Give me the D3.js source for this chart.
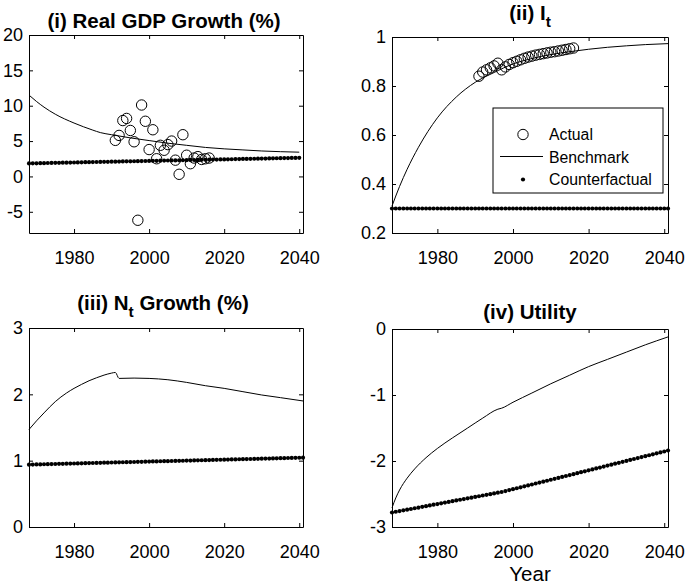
<!DOCTYPE html>
<html>
<head>
<meta charset="utf-8">
<script src="https://cdn.jsdelivr.net/npm/d3@7"></script>
<style>
body { margin: 0; background: #fff; }
text { font-family: "Liberation Sans", Arial, Helvetica, sans-serif; fill: #000; }
</style>
</head>
<body>
<svg id="chart" width="685" height="586"></svg>
<script>
years = [
    1968, 1969, 1970, 1971, 1972, 1973, 1974, 1975, 1976, 1977,
    1978, 1979, 1980, 1981, 1982, 1983, 1984, 1985, 1986, 1987,
    1988, 1989, 1990, 1991, 1992, 1993, 1994, 1995, 1996, 1997,
    1998, 1999, 2000, 2001, 2002, 2003, 2004, 2005, 2006, 2007,
    2008, 2009, 2010, 2011, 2012, 2013, 2014, 2015, 2016, 2017,
    2018, 2019, 2020, 2021, 2022, 2023, 2024, 2025, 2026, 2027,
    2028, 2029, 2030, 2031, 2032, 2033, 2034, 2035, 2036, 2037,
    2038, 2039, 2040, 2041
]

actualYears = [
    1991, 1992, 1993, 1994, 1995, 1996, 1997, 1998, 1999, 2000,
    2001, 2002, 2003, 2004, 2005, 2006, 2007, 2008, 2009, 2010,
    2011, 2012, 2013, 2014, 2015, 2016
]

xTicks = [1980, 2000, 2020, 2040]

// (i) real GDP growth
gdpActual = [
    5.1, 5.8, 7.9, 8.2, 6.5, 4.9, -6.2, 10.1, 7.8, 3.8,
    6.6, 2.5, 4.4, 3.7, 4.5, 5.0, 2.3, 0.3, 5.9, 3.0,
    1.8, 2.6, 2.8, 2.4, 2.5, 2.6
]
gdpBenchYears = [1968, 1970, 1972, 1975, 1980, 1985, 1987, 1990, 1995, 2000, 2005, 2010, 2015, 2020, 2025, 2030, 2035, 2040]
gdpBench = [11.5, 10.6, 9.8, 8.8, 7.55, 6.55, 6.2, 5.9, 5.45, 5.07, 4.7, 4.4, 4.1, 3.9, 3.75, 3.6, 3.5, 3.43]
gdpCounter = [
    1.84, 1.85, 1.86, 1.87, 1.88, 1.90, 1.91, 1.92, 1.93, 1.94,
    1.95, 1.96, 1.97, 1.98, 1.99, 2.01, 2.02, 2.03, 2.04, 2.05,
    2.06, 2.07, 2.08, 2.09, 2.10, 2.12, 2.13, 2.14, 2.15, 2.16,
    2.17, 2.18, 2.19, 2.20, 2.21, 2.23, 2.24, 2.25, 2.26, 2.27,
    2.28, 2.29, 2.30, 2.31, 2.32, 2.34, 2.35, 2.36, 2.37, 2.38,
    2.39, 2.40, 2.41, 2.42, 2.43, 2.45, 2.46, 2.47, 2.48, 2.49,
    2.50, 2.51, 2.52, 2.53, 2.54, 2.56, 2.57, 2.58, 2.59, 2.60,
    2.61, 2.62, 2.63
]
gdpTicks = [-5, 0, 5, 10, 15, 20]

// (ii) I_t
litActual = [
    0.840, 0.857, 0.866, 0.874, 0.882, 0.893, 0.866, 0.878, 0.888, 0.895,
    0.901, 0.907, 0.913, 0.918, 0.922, 0.926, 0.929, 0.932, 0.935, 0.938,
    0.940, 0.943, 0.946, 0.949, 0.952, 0.955
]
litBenchYears = [1968, 1970, 1972, 1975, 1980, 1985, 1990, 1995, 2000, 2005, 2010, 2015, 2020, 2025, 2030, 2035, 2041]
litBench = [0.31, 0.39, 0.46, 0.55, 0.67, 0.755, 0.815, 0.855, 0.89, 0.912, 0.928, 0.94, 0.95, 0.958, 0.964, 0.969, 0.973]
litCounter = [
    0.3, 0.3, 0.3, 0.3, 0.3, 0.3, 0.3, 0.3, 0.3, 0.3,
    0.3, 0.3, 0.3, 0.3, 0.3, 0.3, 0.3, 0.3, 0.3, 0.3,
    0.3, 0.3, 0.3, 0.3, 0.3, 0.3, 0.3, 0.3, 0.3, 0.3,
    0.3, 0.3, 0.3, 0.3, 0.3, 0.3, 0.3, 0.3, 0.3, 0.3,
    0.3, 0.3, 0.3, 0.3, 0.3, 0.3, 0.3, 0.3, 0.3, 0.3,
    0.3, 0.3, 0.3, 0.3, 0.3, 0.3, 0.3, 0.3, 0.3, 0.3,
    0.3, 0.3, 0.3, 0.3, 0.3, 0.3, 0.3, 0.3, 0.3, 0.3,
    0.3, 0.3, 0.3, 0.3
]
litTicks = [0.2, 0.4, 0.6, 0.8, 1]

// (iii) N_t growth
popBenchYears = [1968, 1970, 1972, 1975, 1978, 1980, 1982, 1984, 1986, 1988, 1990, 1991, 1992, 1996, 2000, 2005, 2010, 2015, 2020, 2025, 2030, 2035, 2041]
popBench = [1.47, 1.60, 1.72, 1.89, 2.02, 2.09, 2.15, 2.205, 2.25, 2.29, 2.32, 2.33, 2.24, 2.245, 2.24, 2.22, 2.18, 2.13, 2.09, 2.04, 1.99, 1.95, 1.90]
popCounter = [
    0.940, 0.941, 0.943, 0.944, 0.946, 0.947, 0.949, 0.950, 0.952, 0.953,
    0.954, 0.956, 0.957, 0.959, 0.960, 0.962, 0.963, 0.965, 0.966, 0.967,
    0.969, 0.970, 0.972, 0.973, 0.975, 0.976, 0.978, 0.979, 0.980, 0.982,
    0.983, 0.985, 0.986, 0.988, 0.989, 0.991, 0.992, 0.993, 0.995, 0.996,
    0.998, 0.999, 1.001, 1.002, 1.004, 1.005, 1.006, 1.008, 1.009, 1.011,
    1.012, 1.014, 1.015, 1.017, 1.018, 1.019, 1.021, 1.022, 1.024, 1.025,
    1.027, 1.028, 1.030, 1.031, 1.032, 1.034, 1.035, 1.037, 1.038, 1.040,
    1.041, 1.043, 1.044, 1.045
]
popTicks = [0, 1, 2, 3]

// (iv) utility
utilBenchYears = [1968, 1969, 1970, 1972, 1974, 1977, 1980, 1984, 1988, 1992, 1996, 1997, 2000, 2005, 2010, 2015, 2020, 2025, 2030, 2035, 2041]
utilBench = [-2.71, -2.56, -2.44, -2.26, -2.12, -1.95, -1.81, -1.65, -1.50, -1.35, -1.215, -1.20, -1.11, -0.97, -0.83, -0.70, -0.57, -0.46, -0.35, -0.24, -0.12]
utilCounter = [
    -2.780, -2.769, -2.759, -2.748, -2.737, -2.727, -2.716, -2.705, -2.694, -2.684,
    -2.673, -2.662, -2.652, -2.641, -2.630, -2.620, -2.609, -2.598, -2.587, -2.577,
    -2.566, -2.555, -2.545, -2.534, -2.523, -2.513, -2.502, -2.491, -2.480, -2.470,
    -2.456, -2.441, -2.427, -2.413, -2.399, -2.384, -2.370, -2.356, -2.341, -2.327,
    -2.313, -2.299, -2.284, -2.270, -2.256, -2.241, -2.227, -2.213, -2.199, -2.184,
    -2.170, -2.156, -2.141, -2.127, -2.113, -2.099, -2.084, -2.070, -2.056, -2.041,
    -2.027, -2.013, -1.999, -1.984, -1.970, -1.956, -1.941, -1.927, -1.913, -1.899,
    -1.884, -1.870, -1.856, -1.841
]
utilTicks = [-3, -2, -1, 0]

var svg = d3.select("#chart")
svg.append("rect").attr("width", 685).attr("height", 586).attr("fill", "#fff")

function drawPanel(p) {
    var x = d3.scaleLinear().domain([1968, 2041]).range([p.left, p.right])
    var y = d3.scaleLinear().domain(p.yDomain).range([p.bottom, p.top])
    var g = svg.append("g")

    var fmt = d => String(d)
    g.append("g").attr("transform", "translate(0," + p.bottom + ")")
        .call(d3.axisBottom(x).tickValues(xTicks).tickSize(-4).tickSizeOuter(0).tickPadding(18).tickFormat(fmt))
    g.append("g").attr("transform", "translate(0," + p.top + ")")
        .call(d3.axisTop(x).tickValues(xTicks).tickSize(-4).tickSizeOuter(0).tickFormat(""))
    g.append("g").attr("transform", "translate(" + p.left + ",0)")
        .call(d3.axisLeft(y).tickValues(p.yTicks).tickSize(-4).tickSizeOuter(0).tickPadding(6).tickFormat(fmt))
    g.append("g").attr("transform", "translate(" + p.right + ",0)")
        .call(d3.axisRight(y).tickValues(p.yTicks).tickSize(-4).tickSizeOuter(0).tickFormat(""))
    g.selectAll(".domain, .tick line").attr("stroke", "#000")
    g.selectAll(".tick text").attr("font-size", 18).attr("fill", "#000")
        .attr("font-family", "'Liberation Sans', Arial, sans-serif")

    var bench = p.benchYears.map((yr, i) => [yr, p.bench[i]])
    g.append("path")
        .datum(bench)
        .attr("fill", "none")
        .attr("stroke", "#000")
        .attr("stroke-width", 1)
        .attr("d", d3.line().x(d => x(d[0])).y(d => y(d[1])).curve(d3.curveMonotoneX))

    g.append("g")
        .selectAll("circle")
        .data(p.counter)
        .enter()
            .append("circle")
            .attr("cx", (d, i) => x(years[i]))
            .attr("cy", d => y(d))
            .attr("r", 2.1)
            .attr("fill", "#000")

    if (p.actual) {
        g.append("g")
            .selectAll("circle")
            .data(p.actual)
            .enter()
                .append("circle")
                .attr("cx", (d, i) => x(actualYears[i]))
                .attr("cy", d => y(d))
                .attr("r", 5.2)
                .attr("fill", "none")
                .attr("stroke", "#000")
                .attr("stroke-width", 1)
    }

    var t = g.append("text")
        .attr("x", (p.left + p.right) / 2 + (p.titleShift || 0))
        .attr("y", p.titleY)
        .attr("text-anchor", "middle")
        .attr("font-size", 20.5)
        .attr("font-weight", "bold")
    p.title.forEach(part => {
        t.append("tspan")
            .attr("font-size", part.sub ? 15.5 : 20.5)
            .attr("dy", part.dy || 0)
            .text(part.text)
    })
}

drawPanel({
    left: 29, right: 303, top: 35, bottom: 233,
    yDomain: [-8, 20], yTicks: gdpTicks,
    benchYears: gdpBenchYears, bench: gdpBench, counter: gdpCounter, actual: gdpActual,
    titleY: 27.5, titleShift: -2, title: [{text: "(i) Real GDP Growth (%)"}]
})
drawPanel({
    left: 392, right: 668, top: 37, bottom: 233,
    yDomain: [0.2, 1], yTicks: litTicks,
    benchYears: litBenchYears, bench: litBench, counter: litCounter, actual: litActual,
    titleY: 20, title: [{text: "(ii) I"}, {text: "t", sub: true, dy: 7}]
})
drawPanel({
    left: 29, right: 303, top: 328, bottom: 527,
    yDomain: [0, 3], yTicks: popTicks,
    benchYears: popBenchYears, bench: popBench, counter: popCounter,
    titleY: 310, titleShift: -3, title: [{text: "(iii) N"}, {text: "t", sub: true, dy: 7}, {text: " Growth (%)", dy: -7}]
})
drawPanel({
    left: 392, right: 668, top: 329, bottom: 527,
    yDomain: [-3, 0], yTicks: utilTicks,
    benchYears: utilBenchYears, bench: utilBench, counter: utilCounter,
    titleY: 318.5, title: [{text: "(iv) Utility"}]
})

svg.append("text")
    .attr("x", 530)
    .attr("y", 581)
    .attr("text-anchor", "middle")
    .attr("font-size", 20.5)
    .text("Year")

// legend in panel (ii)
var lg = svg.append("g")
lg.append("rect")
    .attr("x", 493).attr("y", 108).attr("width", 170).attr("height", 85)
    .attr("fill", "#fff").attr("stroke", "#000").attr("stroke-width", 1)
var entries = ["Actual", "Benchmark", "Counterfactual"]
lg.selectAll("text.lbl")
    .data(entries)
    .enter()
        .append("text")
        .attr("class", "lbl")
        .attr("x", 549)
        .attr("y", (d, i) => 140 + i * 22.7)
        .attr("font-size", 15.8)
        .text(d => d)
lg.append("circle").attr("cx", 523).attr("cy", 134.5).attr("r", 5.2)
    .attr("fill", "none").attr("stroke", "#000")
lg.append("line").attr("x1", 500).attr("x2", 543).attr("y1", 156.5).attr("y2", 156.5)
    .attr("stroke", "#000")
lg.append("circle").attr("cx", 523).attr("cy", 179.5).attr("r", 2.1).attr("fill", "#000")
</script>
</body>
</html>
